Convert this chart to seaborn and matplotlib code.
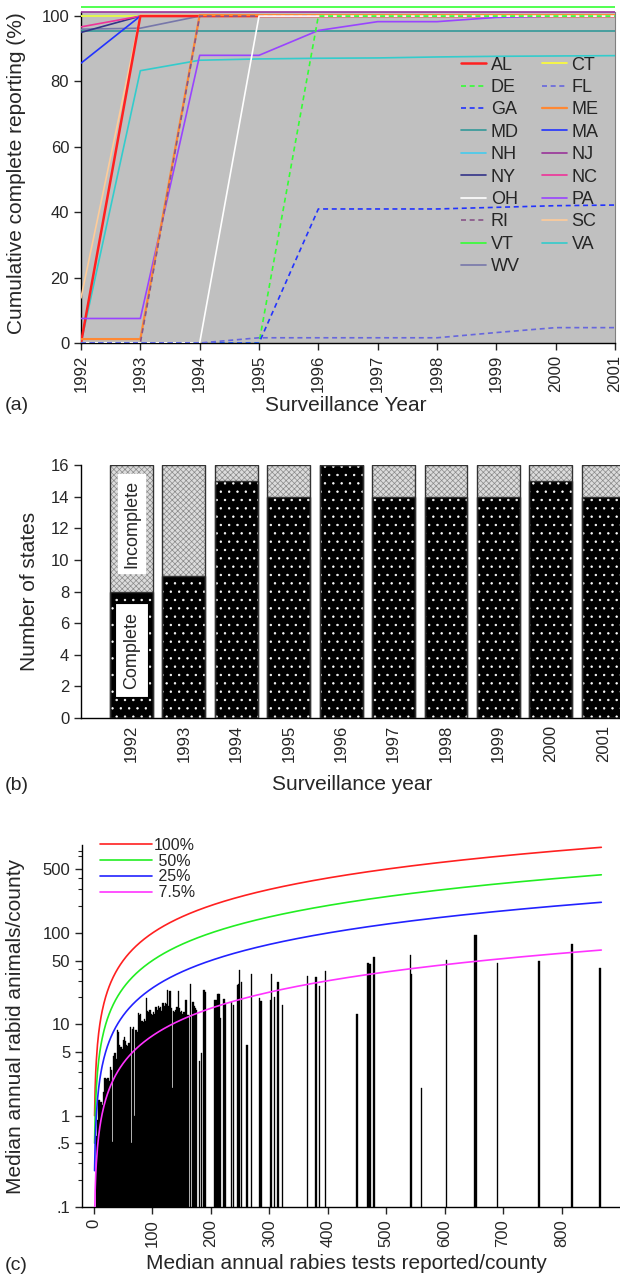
import numpy
import pandas
import seaborn
import matplotlib
matplotlib.use("Agg")
import matplotlib.pyplot as pyplot
from matplotlib.patches import Rectangle
from matplotlib.ticker import FixedLocator, FixedFormatter, NullFormatter

seaborn.set_style("ticks")
pyplot.rcParams["font.family"] = ["Liberation Sans", "DejaVu Sans"]
pyplot.rcParams["hatch.linewidth"] = 0.5

# ---- panel (a): cumulative complete reporting (%) per state, 1992-2001
Years = [1992, 1993, 1994, 1995, 1996, 1997, 1998, 1999, 2000, 2001]
AL = [0, 100, 100, 100, 100, 100, 100, 100, 100, 100]
CT = [100, 100, 100, 100, 100, 100, 100, 100, 100, 100]
DE = [0, 0, 0, 0, 100, 100, 100, 100, 100, 100]
FL = [0, 0, 0, 1.6, 1.6, 1.6, 1.6, 3.2, 4.7, 4.7]
GA = [0, 0, 0, 0, 41, 41, 41, 41.5, 42, 42.2]
ME = [1.2, 1.2, 100.3, 100.3, 100.3, 100.3, 100.3, 100.3, 100.3, 100.3]
MD = [95.5, 95.5, 95.5, 95.5, 95.5, 95.5, 95.5, 95.5, 95.5, 95.5]
MA = [85.6, 100, 100, 100, 100, 100, 100, 100, 100, 100]
NH = [100, 100, 100, 100, 100, 100, 100, 100, 100, 100]
NJ = [101.2, 101.2, 101.2, 101.2, 101.2, 101.2, 101.2, 101.2, 101.2, 101.2]
NY = [95, 100, 100, 100, 100, 100, 100, 100, 100, 100]
NC = [96.7, 100, 100, 100, 100, 100, 100, 100, 100, 100]
OH = [0, 0, 0, 100, 100, 100, 100, 100, 100, 100]
PA = [7.5, 7.5, 88, 88, 95.6, 98.3, 98.3, 99.6, 100, 100]
RI = [0, 0, 100, 100, 100, 100, 100, 100, 100, 100]
SC = [13.8, 100.3, 100.3, 100.3, 100.3, 100.3, 100.3, 100.3, 100.3, 100.3]
VT = [102.9, 102.9, 102.9, 102.9, 102.9, 102.9, 102.9, 102.9, 102.9, 102.9]
VA = [0, 83.3, 86.5, 86.9, 87.1, 87.2, 87.5, 87.7, 87.8, 87.9]
WV = [96, 96.3, 100, 100, 100, 100, 100, 100, 100, 100]

# ---- panel (b): number of states with complete reporting
CompleteStates = [8, 9, 15, 14, 16, 14, 14, 14, 15, 14]
IncompleteStates = [8, 7, 1, 2, 0, 2, 2, 2, 1, 2]

# ---- panel (c): counties, median annual tests vs median annual rabid animals
CountyTests = [4, 6, 8, 10, 12, 14, 16, 18, 20, 22, 24, 26, 28, 30, 32, 34, 36, 38,
               40, 42, 44, 46, 48, 50, 52, 54, 56, 58, 60, 62, 64, 66, 68, 70, 72, 74,
               76, 78, 80, 82, 84, 86, 88, 90, 92, 94, 96, 98, 100, 102, 104, 106, 108,
               110, 112, 114, 116, 118, 120, 122, 124, 126, 128, 130, 132, 134, 136,
               138, 140, 142, 144, 146, 148, 150, 152, 154, 156, 158, 160, 162,
               165, 168, 170, 172, 174, 176, 181, 184, 188, 190, 206, 208, 210, 212,
               214, 217, 221, 223, 225, 235, 239, 245, 247, 249, 253, 262, 270, 283,
               286, 302, 304, 309, 315, 322, 365, 379, 381, 386, 396,
               450, 469, 471, 473, 479, 542, 543, 560, 603, 652, 654, 691, 760, 762,
               818, 865, 867]
CountyRabid = [0.6, 0.9, 1.5, 1.5, 1.4, 1.3, 1.8, 2.6, 2.6, 2.5, 2.6, 2.4, 3.4, 3.2,
               0.52, 4.5, 4.9, 4.2, 8.7, 8.2, 6, 5.7, 5.4, 6.8, 7.3, 6.5, 6, 5.8, 6.2,
               9.4, 0.5, 9, 9.4, 1.0, 8.7, 8.2, 13.2, 12.5, 13, 11, 10.5, 11.5, 11, 19.5,
               14, 13.5, 14.5, 13, 12.5, 13.5, 13, 15.5, 14.5, 16, 15, 15.5, 14, 17, 16,
               17, 16.5, 24, 16, 23, 15, 2.0, 14, 13.5, 14.5, 15.5, 23, 15, 13.5, 14, 13,
               13.5, 18.7, 18.7, 12.7, 12.7,
               27.7, 17.5, 17.5, 16, 15, 14.5, 4.0, 4.8, 24, 22.5, 18.5, 18.5, 18.5,
               21.5, 21.5, 11.7, 19, 19, 17, 17.6, 16.3, 26.7, 28, 39, 29, 5.9, 36,
               19.3, 18, 18.7, 36, 19.7, 29, 16.3, 34, 33, 33, 26, 38,
               13, 47, 46, 46, 55, 58, 36, 2.0, 51, 95, 95, 47, 50, 50, 75, 41, 41]
PositiveRates = [1.0, 0.5, 0.25, 0.075]
RateLabels = ["100%", " 50%", " 25%", " 7.5%"]

# ---- styles
StateStyle = {
    "AL": ("#ff2020", "-", 1.8), "CT": ("#ffff33", "-", 1.2), "DE": ("#33ff33", "--", 1.2),
    "FL": ("#6666dd", "--", 1.2), "GA": ("#2233ff", "--", 1.2), "ME": ("#ff8833", "-", 1.6),
    "MD": ("#339999", "-", 1.2), "MA": ("#2233ff", "-", 1.2), "NH": ("#44ccee", "-", 1.2),
    "NJ": ("#993399", "-", 1.2), "NY": ("#333388", "-", 1.2), "NC": ("#ee3399", "-", 1.2),
    "OH": ("#ffffff", "-", 1.2), "PA": ("#9944ff", "-", 1.2), "RI": ("#885588", "--", 1.2),
    "SC": ("#ffcc99", "-", 1.2), "VT": ("#33ff33", "-", 1.2), "VA": ("#33cccc", "-", 1.2),
    "WV": ("#7777aa", "-", 1.2),
}
StateSeries = {"AL": AL, "CT": CT, "DE": DE, "FL": FL, "GA": GA, "ME": ME, "MD": MD,
               "MA": MA, "NH": NH, "NJ": NJ, "NY": NY, "NC": NC, "OH": OH, "PA": PA,
               "RI": RI, "SC": SC, "VT": VT, "VA": VA, "WV": WV}
DrawOrder = ["NH", "CT", "MD", "WV", "NY", "NC", "MA", "VA", "SC", "AL", "PA", "ME",
             "RI", "OH", "DE", "GA", "FL", "NJ", "VT"]
LegendOrder = ["AL", "DE", "GA", "MD", "NH", "NY", "OH", "RI", "VT", "WV",
               "CT", "FL", "ME", "MA", "NJ", "NC", "PA", "SC", "VA"]
CurveColors = ["#ff2020", "#22ee22", "#2222ff", "#ff33ff"]

TickSize = 12
LabelSize = 15

fig = pyplot.figure(figsize=(6.2, 12.82), dpi=100)

# ================= panel (a)
axA = fig.add_axes([81/620, 1 - 343/1282, 534/620, 339/1282])
axA.set_facecolor("white")
axA.axhspan(0, 101.3, color="#c0c0c0", zorder=0, linewidth=0)
for name in DrawOrder:
    color, ls, lw = StateStyle[name]
    frame = pandas.DataFrame({"Year": Years, "Pct": StateSeries[name]})
    seaborn.lineplot(data=frame, x="Year", y="Pct", color=color, linewidth=lw,
                     label=name, ax=axA, zorder=3)
    if ls == "--":
        axA.lines[-1].set_dashes((3, 2.2))
handles, labels = axA.get_legend_handles_labels()
lookup = dict(zip(labels, handles))
axA.legend([lookup[n] for n in LegendOrder], LegendOrder, ncol=2, frameon=False,
           loc="upper left", bbox_to_anchor=(0.712, 0.845), borderaxespad=0, borderpad=0,
           fontsize=13, handlelength=1.4, handletextpad=0.25, columnspacing=1.2,
           labelspacing=0.3)
axA.set_xlim(1992, 2001)
axA.set_ylim(0, 103.7)
axA.set_xticks(Years)
axA.set_xticklabels([str(y) for y in Years], rotation=90)
axA.set_yticks([0, 20, 40, 60, 80, 100])
axA.tick_params(labelsize=TickSize, length=5, width=1, direction="out")
axA.spines["top"].set_visible(False)
axA.spines["right"].set_color("#808080")
axA.spines["right"].set_bounds(0, 101.3)
axA.spines["left"].set_bounds(0, 101.3)
for s in ["left", "bottom"]:
    axA.spines[s].set_color("black")
    axA.spines[s].set_linewidth(1)
axA.set_xlabel("Surveillance Year", fontsize=LabelSize)
axA.set_ylabel("Cumulative complete reporting (%)", fontsize=LabelSize)
axA.xaxis.set_label_coords(0.496, -0.155)
axA.yaxis.set_label_coords(-0.103, 0.5)

# ================= panel (b)
axB = fig.add_axes([81/620, 1 - 718/1282, 539/620, 253/1282])
TotalStates = [c + i for c, i in zip(CompleteStates, IncompleteStates)]
seaborn.barplot(x=Years, y=TotalStates, color="#dcdcdc", width=0.82, saturation=1,
                errorbar=None, ax=axB)
seaborn.barplot(x=Years, y=CompleteStates, color="black", width=0.82, saturation=1,
                errorbar=None, ax=axB)
bars = list(axB.patches)
for p in bars[:len(Years)]:
    p.set_hatch("xxxxxx")
    p.set_edgecolor("#8a8a8a")
    p.set_linewidth(0)
for p in bars[len(Years):]:
    p.set_hatch("..")
    p.set_edgecolor("white")
    p.set_linewidth(0)
for p in bars:
    if p.get_height() > 0:
        axB.add_patch(Rectangle(p.get_xy(), p.get_width(), p.get_height(), fill=False,
                                edgecolor="#333333", linewidth=1, zorder=4))
axB.text(0, CompleteStates[0] / 2 + 0.3, "Complete", rotation=90, ha="center", va="center",
         fontsize=13, zorder=5,
         bbox=dict(boxstyle="square,pad=0.45", facecolor="white", edgecolor="black",
                   linewidth=0.8))
axB.text(0, CompleteStates[0] + IncompleteStates[0] / 2 + 0.3, "Incomplete", rotation=90,
         ha="center", va="center", fontsize=13, zorder=5,
         bbox=dict(boxstyle="square,pad=0.3", facecolor="white", edgecolor="white"))
axB.set_xlim(-0.964, 9.32)
axB.set_ylim(0, 16)
axB.set_yticks(range(0, 17, 2))
axB.set_xticklabels([str(y) for y in Years], rotation=90)
axB.tick_params(labelsize=TickSize, length=5, width=1, direction="out")
axB.tick_params(axis="x", length=0, pad=5)
seaborn.despine(ax=axB)
for s in ["left", "bottom"]:
    axB.spines[s].set_color("black")
    axB.spines[s].set_linewidth(1)
axB.set_xlabel("Surveillance year", fontsize=LabelSize)
axB.set_ylabel("Number of states", fontsize=LabelSize)
axB.xaxis.set_label_coords(0.503, -0.225)
axB.yaxis.set_label_coords(-0.078, 0.5)

# ================= panel (c)
axC = fig.add_axes([82/620, 1 - 1207/1282, 538/620, 362/1282])
axC.set_yscale("log")
axC.bar(CountyTests, CountyRabid, width=2.2, color="black", edgecolor="black",
        linewidth=0.25, zorder=2)
CurveTests = numpy.arange(1, 869)
for rate, lab, col in zip(PositiveRates, RateLabels, CurveColors):
    seaborn.lineplot(x=CurveTests, y=rate * CurveTests, color=col, linewidth=1.2,
                     label=lab, ax=axC, zorder=3)
axC.legend(frameon=False, loc="upper left", bbox_to_anchor=(0.033, 1.02),
           borderaxespad=0, borderpad=0, fontsize=11.5, handlelength=3.3,
           handletextpad=0.1, labelspacing=0.05)
axC.set_xlim(-20.5, 900)
axC.set_ylim(0.1, 920)
axC.yaxis.set_major_locator(FixedLocator([0.1, 0.5, 1, 5, 10, 50, 100, 500]))
axC.yaxis.set_major_formatter(FixedFormatter([".1", ".5", "1", "5", "10", "50", "100", "500"]))
axC.yaxis.set_minor_locator(FixedLocator([0.2, 0.3, 0.4, 2, 3, 4, 20, 30, 40,
                                          200, 300, 400, 700, 800]))
axC.yaxis.set_minor_formatter(NullFormatter())
axC.set_xticks(range(0, 801, 100))
axC.set_xticklabels([str(v) for v in range(0, 801, 100)], rotation=90)
axC.tick_params(labelsize=TickSize, length=5, width=1, direction="out")
axC.tick_params(which="minor", length=3, width=0.8)
seaborn.despine(ax=axC)
for s in ["left", "bottom"]:
    axC.spines[s].set_color("black")
    axC.spines[s].set_linewidth(1)
axC.set_xlabel("Median annual rabies tests reported/county", fontsize=LabelSize)
axC.set_ylabel("Median annual rabid animals/county", fontsize=LabelSize)
axC.xaxis.set_label_coords(0.492, -0.13)
axC.yaxis.set_label_coords(-0.106, 0.5)

fig.text(5/620, 1 - 405/1282, "(a)", fontsize=14, va="center", ha="left")
fig.text(5/620, 1 - 785/1282, "(b)", fontsize=14, va="center", ha="left")
fig.text(5/620, 1 - 1265/1282, "(c)", fontsize=14, va="center", ha="left")

fig.savefig("out.png", dpi=100)
